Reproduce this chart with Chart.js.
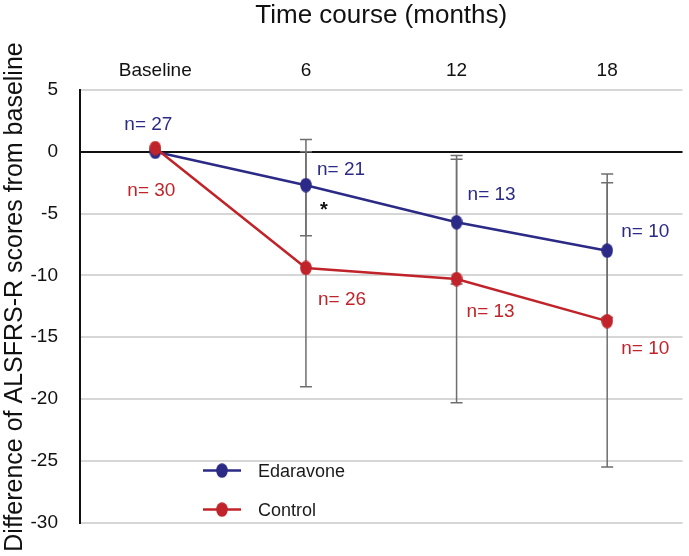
<!DOCTYPE html>
<html>
<head>
<meta charset="utf-8">
<script src="https://cdn.jsdelivr.net/npm/chart.js@4/dist/chart.umd.min.js"></script>
<style>
  html, body { margin: 0; padding: 0; background: #fff; }
  #wrap { width: 689px; height: 556px; position: relative; }
</style>
</head>
<body>
<div id="wrap"><canvas id="chart"></canvas></div>
<script>
// Edaravone vs control — change in ALSFRS-R from baseline, 0–18 months

const timepoints = ["Baseline", "6", "12", "18"];
const yTicks = [5, 0, -5, -10, -15, -20, -25, -30];

const edaravoneMean = [0, -2.7, -5.7, -8.0];
const edaravoneLow  = [null, -6.8, -10.7, -13.4];
const edaravoneHigh = [null, 1.0, -0.6, -2.5];
const edaravoneN    = [27, 21, 13, 10];

const controlMean = [0.3, -9.4, -10.3, -13.7];
const controlLow  = [null, -19.0, -20.3, -25.5];
const controlHigh = [null, 0.0, -0.3, -1.8];
const controlN    = [30, 26, 13, 10];

const BLUE = "#2b2a86";
const RED  = "#c0242a";
const FONT = "'Liberation Sans', Arial, sans-serif";

Chart.defaults.font.family = FONT;
Chart.defaults.color = "#1a1a1a";

// slightly tall oval markers, as in the original figure
function ovalMarker(color) {
  const c = document.createElement("canvas");
  c.width = 12; c.height = 15;
  const g = c.getContext("2d");
  g.fillStyle = color;
  g.beginPath();
  g.ellipse(6, 7.5, 5.8, 7.3, 0, 0, Math.PI * 2);
  g.fill();
  return c;
}

// n= labels: pixel offsets from each point (left edge, vertical centre)
const nOffsets = {
  edaravone: [[-31, -27], [11, -15], [11, -27], [14, -19]],
  control:   [[-28, 43], [12, 32], [10, 33], [14, 28]],
};

const errorBars = {
  id: "errorBars",
  beforeDatasetsDraw(chart) {
    const { ctx, scales: { x, y } } = chart;
    const sets = [[edaravoneLow, edaravoneHigh], [controlLow, controlHigh]];
    ctx.save();
    ctx.strokeStyle = "#6e6e6e";
    ctx.lineWidth = 1.5;
    sets.forEach(([lo, hi]) => {
      lo.forEach((v, i) => {
        if (v === null) return;
        const px = x.getPixelForValue(i);
        const y1 = y.getPixelForValue(v);
        const y2 = y.getPixelForValue(hi[i]);
        ctx.beginPath();
        ctx.moveTo(px, y1); ctx.lineTo(px, y2);
        ctx.moveTo(px - 6, y1); ctx.lineTo(px + 6, y1);
        ctx.moveTo(px - 6, y2); ctx.lineTo(px + 6, y2);
        ctx.stroke();
      });
    });
    ctx.restore();
  },
  afterDatasetsDraw(chart) {
    const { ctx, scales: { x, y }, chartArea } = chart;
    ctx.save();
    ctx.font = "19px " + FONT;
    ctx.textBaseline = "middle";
    ctx.textAlign = "left";
    const label = (means, ns, offs, color) => {
      ctx.fillStyle = color;
      means.forEach((m, i) => {
        const px = x.getPixelForValue(i) + offs[i][0];
        const py = y.getPixelForValue(m) + offs[i][1];
        ctx.fillText("n= " + ns[i], px, py);
      });
    };
    label(edaravoneMean, edaravoneN, nOffsets.edaravone, BLUE);
    label(controlMean, controlN, nOffsets.control, RED);

    // significance marker at 6 months
    ctx.fillStyle = "#111";
    ctx.font = "bold 20px " + FONT;
    ctx.fillText("*", x.getPixelForValue(1) + 14, y.getPixelForValue(edaravoneMean[1]) + 25);

    // legend, bottom left inside the plot
    const items = [["Edaravone", BLUE], ["Control", RED]];
    items.forEach(([name, color], k) => {
      const ly = chartArea.bottom - 52 + k * 39;
      const lx = chartArea.left + 123;
      ctx.strokeStyle = color;
      ctx.lineWidth = 2.5;
      ctx.beginPath();
      ctx.moveTo(lx, ly); ctx.lineTo(lx + 38, ly);
      ctx.stroke();
      ctx.drawImage(ovalMarker(color), lx + 13, ly - 7.5);
      ctx.fillStyle = "#1a1a1a";
      ctx.font = "18px " + FONT;
      ctx.fillText(name, lx + 55, ly + 1);
    });

    // y-axis title, drawn by hand so it can sit a little above centre
    ctx.translate(15, 297);
    ctx.rotate(-Math.PI / 2);
    ctx.textAlign = "center";
    ctx.fillStyle = "#111";
    ctx.font = "25px " + FONT;
    ctx.fillText("Difference of ALSFRS-R scores from baseline", 0, 0);
    ctx.restore();
  },
};

new Chart(document.getElementById("chart"), {
  type: "line",
  data: {
    labels: timepoints,
    datasets: [
      {
        label: "Control",
        data: controlMean,
        borderColor: RED,
        backgroundColor: RED,
        borderWidth: 2.5,
        pointStyle: ovalMarker(RED),
        order: 0,
      },
      {
        label: "Edaravone",
        data: edaravoneMean,
        borderColor: BLUE,
        backgroundColor: BLUE,
        borderWidth: 2.5,
        pointStyle: ovalMarker(BLUE),
        order: 1,
      },
    ],
  },
  options: {
    responsive: true,
    maintainAspectRatio: false,
    animation: false,
    layout: { padding: { top: 0, right: 2, bottom: 24, left: 0 } },
    plugins: { legend: { display: false }, tooltip: { enabled: false } },
    scales: {
      x: {
        type: "category",
        position: "top",
        offset: true,
        grid: { display: false },
        border: { display: false },
        ticks: { font: { size: 19 }, color: "#111", padding: 0 },
        title: {
          display: true,
          text: "Time course (months)",
          font: { size: 26 },
          color: "#111",
          padding: { top: 0, bottom: 26 },
        },
        afterFit: axis => { axis.height = 90; },
      },
      y: {
        min: -30,
        max: 5,
        afterBuildTicks: axis => { axis.ticks = yTicks.map(v => ({ value: v })); },
        grid: {
          color: c => (c.tick && c.tick.value === 0 ? "#111" : "#d6d6d6"),
          lineWidth: 2,
          drawTicks: false,
        },
        border: { display: true, color: "#111", width: 2 },
        ticks: { font: { size: 19 }, color: "#111", padding: 22 },
        afterFit: axis => { axis.width = 80; },
      },
    },
  },
  plugins: [errorBars],
});
</script>
</body>
</html>
